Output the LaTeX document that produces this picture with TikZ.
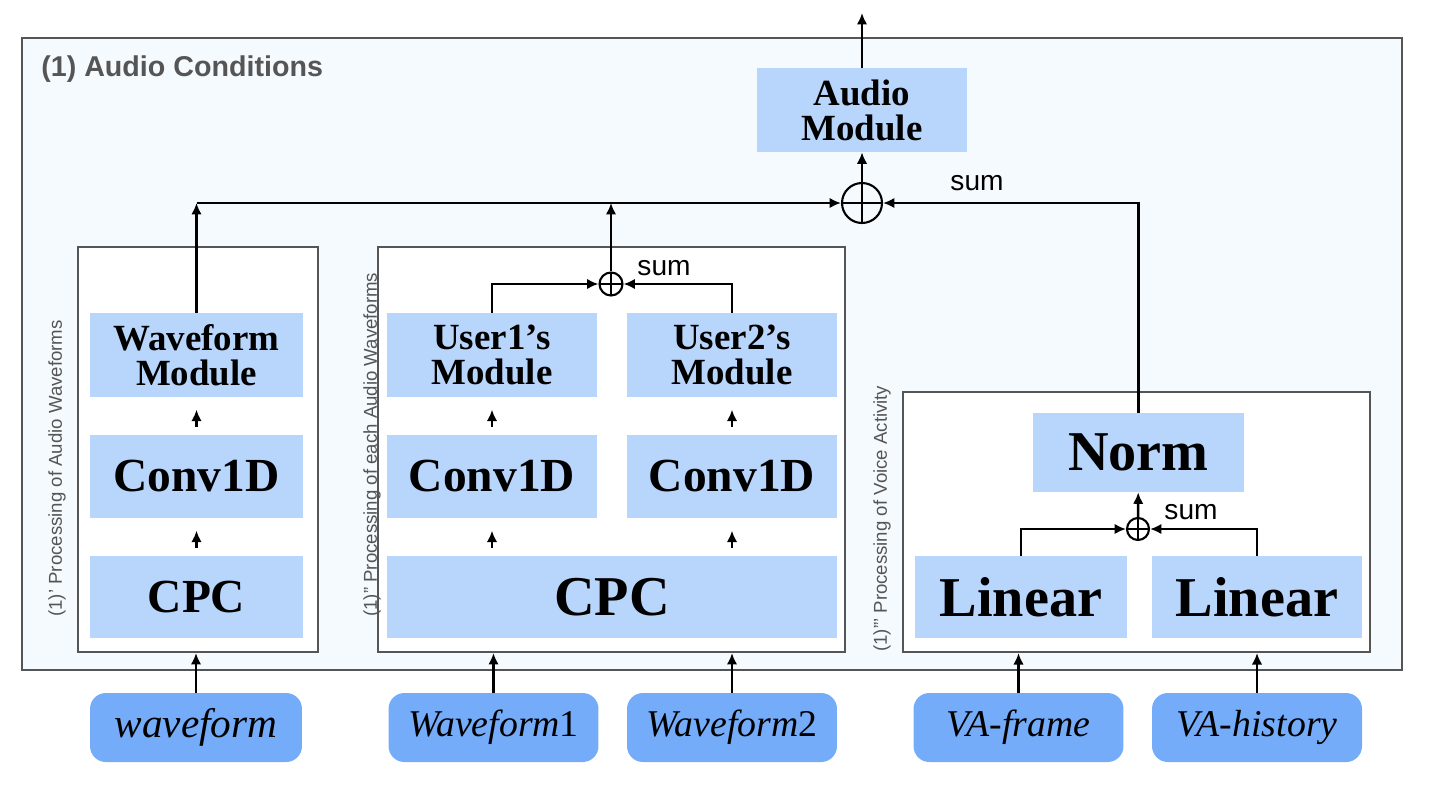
\documentclass[tikz,border=0pt]{standalone}
\usepackage{fontspec}
\setmainfont{Liberation Serif}
\setsansfont{Liberation Sans}
\usetikzlibrary{arrows.meta}

\definecolor{modblue}{HTML}{B8D5FB}
\definecolor{inblue}{HTML}{74ACFA}
\definecolor{panelbg}{HTML}{F5FAFE}
\definecolor{edgegray}{HTML}{555555}

\tikzset{
  mod/.style={fill=modblue, font=\bfseries, align=center, inner sep=0pt},
  modtxt/.style={font=\fontsize{21}{20}\selectfont\bfseries},
  bigtxt/.style={font=\fontsize{27}{27}\selectfont\bfseries},
  hugetxt/.style={font=\fontsize{32}{32}\selectfont\bfseries},
  inp/.style={fill=inblue, rounded corners=9pt, inner sep=0pt,
    minimum width=4.2cm, minimum height=1.38cm,
    font=\fontsize{21.5}{21}\selectfont\itshape},
  grp/.style={draw=edgegray, line width=1.25pt, fill=white, inner sep=0pt},
  arr/.style={-{Latex[length=6.5pt,width=6pt]}, line width=1.35pt},
  stub/.style={arr, shorten <=4.5pt, shorten >=7pt},
  sumop/.style={circle, draw, line width=1.2pt, inner sep=0pt,
    path picture={\draw[line width=1.2pt]
      (path picture bounding box.north) -- (path picture bounding box.south)
      (path picture bounding box.west) -- (path picture bounding box.east);}},
  sumlbl/.style={font=\fontsize{16}{16}\selectfont\sffamily},
  grplabel/.style={font=\fontsize{10.6}{11}\selectfont\sffamily, text=edgegray,
    rotate=90, anchor=west, inner sep=0pt}
}

\begin{document}
\begin{tikzpicture}[x=0.02cm, y=-0.02cm]
  \useasboundingbox (0,0) rectangle (1432,788);

  % outer panel and groups
  \node [draw=edgegray, line width=1.25pt, fill=panelbg, minimum width=27.6cm, minimum height=12.64cm, inner sep=0pt] (panel) at (712,354) {};
  \node [anchor=west, text=edgegray, font=\fontsize{16.3}{17}\selectfont\sffamily\bfseries, inner sep=0pt] (title) at (41,69) {(1) Audio Conditions};
  \node [grp, minimum width=4.8cm, minimum height=8.1cm] (box1) at (198,449.5) {};
  \node [grp, minimum width=9.34cm, minimum height=8.1cm] (box2) at (611.5,449.5) {};
  \node [grp, minimum width=9.34cm, minimum height=5.2cm] (box3) at (1136.5,522) {};
  \node [grplabel] (cap1) at (57,617) {(1)' Processing of Audio Waveforms};
  \node [grplabel] (cap2) at (372,617) {(1)'' Processing of each Audio Waveforms};
  \node [grplabel] (cap3) at (882,652) {(1)''' Processing of Voice Activity};

  % blocks
  \node [mod, modtxt, minimum width=4.2cm, minimum height=1.68cm] (audiomod) at (862,110) {Audio\\Module};
  \node [mod, modtxt, minimum width=4.26cm, minimum height=1.68cm] (wmod) at (196.5,355) {Waveform\\Module};
  \node [mod, bigtxt, minimum width=4.26cm, minimum height=1.66cm] (conva) at (196.5,476.5) {Conv1D};
  \node [mod, bigtxt, minimum width=4.26cm, minimum height=1.64cm] (cpca) at (196.5,597) {CPC};
  \node [mod, modtxt, minimum width=4.2cm, minimum height=1.68cm] (u1mod) at (492,355) {User1’s\\Module};
  \node [mod, modtxt, minimum width=4.2cm, minimum height=1.68cm] (u2mod) at (732,355) {User2’s\\Module};
  \node [mod, bigtxt, minimum width=4.2cm, minimum height=1.66cm] (convb) at (492,476.5) {Conv1D};
  \node [mod, bigtxt, minimum width=4.2cm, minimum height=1.66cm] (convc) at (732,476.5) {Conv1D};
  \node [mod, hugetxt, minimum width=9.0cm, minimum height=1.64cm] (cpcb) at (612,597) {CPC};
  \node [mod, hugetxt, minimum width=4.22cm, minimum height=1.58cm] (norm) at (1138.5,452.5) {Norm};
  \node [mod, hugetxt, minimum width=4.24cm, minimum height=1.64cm] (lina) at (1021,597) {Linear};
  \node [mod, hugetxt, minimum width=4.2cm, minimum height=1.64cm] (linb) at (1257,597) {Linear};

  % sums
  \node [sumop, minimum size=0.8cm] (sumtop) at (862,203) {};
  \node [sumop, minimum size=0.46cm] (sumu) at (611,284) {};
  \node [sumop, minimum size=0.44cm] (sumva) at (1138,529) {};
  \node [sumlbl] (lbltop) at (977,183) {sum};
  \node [sumlbl] (lblu) at (664,268) {sum};
  \node [sumlbl] (lblva) at (1191,512) {sum};

  % inputs
  \node [inp, minimum width=4.24cm, font=\fontsize{23.5}{23}\selectfont\itshape] (wav) at (196,727.5) {waveform};
  \node [inp] (wav1) at (493.5,727.5) {Waveform\textup{1}};
  \node [inp] (wav2) at (732,727.5) {Waveform\textup{2}};
  \node [inp] (vafr) at (1018.5,727.5) {VA-frame};
  \node [inp] (vahi) at (1257,727.5) {VA-history};
  \coordinate (out) at (862,13);

  % connectors
  \draw [arr] (wav) -- (wav |- box1.south);
  \draw [arr] (wav1) -- (wav1 |- box2.south);
  \draw [arr] (wav2) -- (wav2 |- box2.south);
  \draw [arr] (vafr) -- (vafr |- box3.south);
  \draw [arr] (vahi) -- (vahi |- box3.south);
  \draw [stub] (cpca) -- (conva);
  \draw [stub] (conva) -- (wmod);
  \draw [stub] (cpcb.north -| convb) -- (convb);
  \draw [stub] (cpcb.north -| convc) -- (convc);
  \draw [stub] (convb) -- (u1mod);
  \draw [stub] (convc) -- (u2mod);
  \draw [arr] (u1mod.north) |- (sumu.west);
  \draw [arr] (u2mod.north) |- (sumu.east);
  \draw [arr] (lina.north) |- (sumva.west);
  \draw [arr] (linb.north) |- (sumva.east);
  \draw [arr] (sumva) -- (norm);
  \draw [arr] (wmod.north) -- (wmod.north |- sumtop);
  \draw [arr] (wmod.north |- sumtop) -- (sumtop.west);
  \draw [arr] (sumu) -- (sumu |- sumtop);
  \draw [arr] (norm.north) |- (sumtop.east);
  \draw [arr] (sumtop) -- (audiomod);
  \draw [arr] (audiomod) -- (out);
\end{tikzpicture}
\end{document}
